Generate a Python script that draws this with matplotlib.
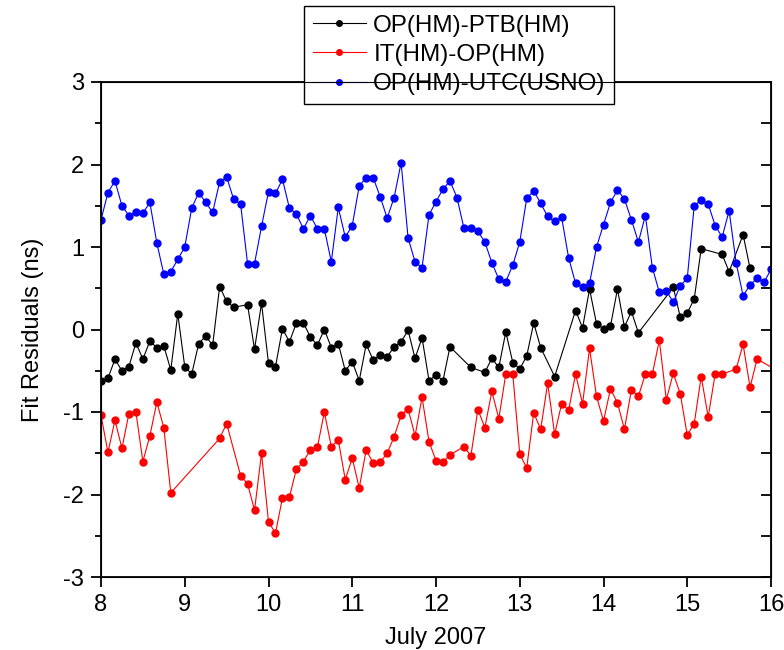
import matplotlib
matplotlib.use("Agg")
import matplotlib.pyplot as plt
import numpy as np

# samples every 2 hours from July 8, 00:00 (index -1 = 22:00 on July 7); None = no data
start_day = 8.0
step_hours = 2
first_index = -1

ptb = [None,
       -0.62, -0.59, -0.36, -0.50, -0.45, -0.16, -0.36, -0.14, -0.22, -0.20,
       -0.49, 0.19, -0.45, -0.54, -0.17, -0.08, -0.19, 0.52, 0.34, 0.27,
       None, 0.30, -0.24, 0.32, -0.41, -0.45, 0.01, -0.15, 0.08, 0.08,
       -0.09, -0.19, 0.00, -0.22, -0.17, -0.50, -0.39, -0.62, -0.18, -0.37,
       -0.31, -0.33, -0.21, -0.15, -0.01, -0.35, -0.10, -0.62, -0.55, -0.62,
       -0.21, None, None, -0.46, None, -0.52, -0.35, -0.46, -0.03, -0.40,
       -0.48, -0.32, 0.08, -0.22, None, -0.57, None, None, 0.23, 0.02,
       0.49, 0.07, 0.01, 0.04, 0.49, 0.03, 0.22, -0.04, None, None,
       None, None, 0.51, 0.15, 0.20, 0.37, 0.98, None, None, 0.91,
       0.70, None, 1.15, 0.74, None, None, None, None]

it = [-0.45,
      -1.04, -1.49, -1.10, -1.44, -1.02, -1.00, -1.60, -1.29, -0.88, -1.19,
      -1.98, None, None, None, None, None, None, -1.32, -1.14, None,
      -1.77, -1.87, -2.19, -1.50, -2.33, -2.47, -2.04, -2.03, -1.69, -1.60,
      -1.46, -1.43, -1.00, -1.42, -1.34, -1.82, -1.56, -1.92, -1.46, -1.62,
      -1.61, -1.50, -1.30, -1.04, -0.96, -1.29, -0.82, -1.36, -1.59, -1.61,
      -1.52, None, -1.42, -1.53, -0.97, -1.19, -0.75, -1.08, -0.54, -0.54,
      -1.51, -1.68, -1.01, -1.21, -0.65, -1.27, -0.90, -0.98, -0.54, -0.90,
      -0.23, -0.81, -1.11, -0.72, -0.89, -1.21, -0.73, -0.81, -0.54, -0.54,
      -0.13, -0.85, -0.53, -0.78, -1.28, -1.14, -0.57, -1.06, -0.54, -0.54,
      None, -0.48, -0.18, -0.70, -0.36, None, None, -0.50]

usno = [None,
        1.33, 1.66, 1.80, 1.50, 1.38, 1.42, 1.41, 1.54, 1.05, 0.67,
        0.70, 0.85, 1.00, 1.47, 1.66, 1.54, 1.42, 1.79, 1.85, 1.58,
        1.52, 0.80, 0.80, 1.25, 1.67, 1.65, 1.82, 1.47, 1.40, 1.22,
        1.38, 1.22, 1.22, 0.82, 1.48, 1.12, 1.26, 1.74, 1.84, 1.84,
        1.61, 1.35, 1.60, 2.02, 1.11, 0.82, 0.75, 1.39, 1.55, 1.70,
        1.80, 1.60, 1.23, 1.23, 1.19, 1.06, 0.81, 0.61, 0.58, 0.78,
        1.06, 1.59, 1.68, 1.53, 1.37, 1.31, 1.36, 0.87, 0.56, 0.51,
        0.56, 1.00, 1.27, 1.54, 1.69, 1.58, 1.33, 1.06, 1.38, 0.75,
        0.45, 0.47, 0.33, 0.53, 0.62, 1.50, 1.57, 1.52, 1.26, 1.12,
        1.44, 0.81, 0.41, 0.54, 0.62, 0.57, 0.73, None]

labels = ["OP(HM)-PTB(HM)", "IT(HM)-OP(HM)", "OP(HM)-UTC(USNO)"]
colors = ["black", "red", "blue"]

plt.rcParams["font.family"] = ["Liberation Sans", "DejaVu Sans"]
plt.rcParams["font.size"] = 17
plt.rcParams["axes.unicode_minus"] = False


def to_xy(values):
    xs, ys = [], []
    for i, v in enumerate(values):
        if v is not None:
            xs.append(start_day + (i + first_index) * step_hours / 24.0)
            ys.append(v)
    return np.array(xs), np.array(ys)


fig = plt.figure(figsize=(7.84, 6.5), dpi=100)
ax = fig.add_axes([101 / 784, 1 - 577 / 650, 670 / 784, 495 / 650])

handles = []
for series, label, color in zip([ptb, it, usno], labels, colors):
    x, y = to_xy(series)
    h, = ax.plot(x, y, "-o", color=color, lw=0.8, ms=5, mec=color, label=label)
    handles.append(h)

ax.set_xlim(8, 16)
ax.set_ylim(-3, 3)
ax.set_xticks(range(8, 17))
ax.set_yticks(range(-3, 4))
ax.set_yticks(np.arange(-2.5, 3, 1.0), minor=True)
ax.set_xlabel("July 2007", labelpad=8)
ax.set_ylabel("Fit Residuals (ns)", labelpad=14)

for s in ax.spines.values():
    s.set_linewidth(1.3)
ax.tick_params(axis="both", which="both", direction="out", width=1.3)
ax.tick_params(axis="both", which="major", length=7, pad=5)
ax.tick_params(axis="y", which="minor", length=4)
ax.tick_params(axis="x", which="minor", bottom=False)

# inward ticks on the right side
axr = ax.twinx()
axr.set_ylim(-3, 3)
axr.set_yticks(np.arange(-3, 3.1, 0.5))
axr.tick_params(axis="y", direction="in", length=7, width=1.3, labelright=False)

leg = ax.legend(handles=handles, loc="upper left",
                bbox_to_anchor=(304 / 784, 1 - 6 / 650),
                bbox_transform=fig.transFigure, fontsize=17.5,
                numpoints=1, handlelength=2.2, handletextpad=0.3,
                labelspacing=0.3, borderpad=0.35, borderaxespad=0,
                fancybox=False, framealpha=1, edgecolor="black")
leg.get_frame().set_linewidth(1.0)
for lh in leg.legend_handles:
    lh.set_markersize(4)

fig.savefig("out.png", dpi=100)
